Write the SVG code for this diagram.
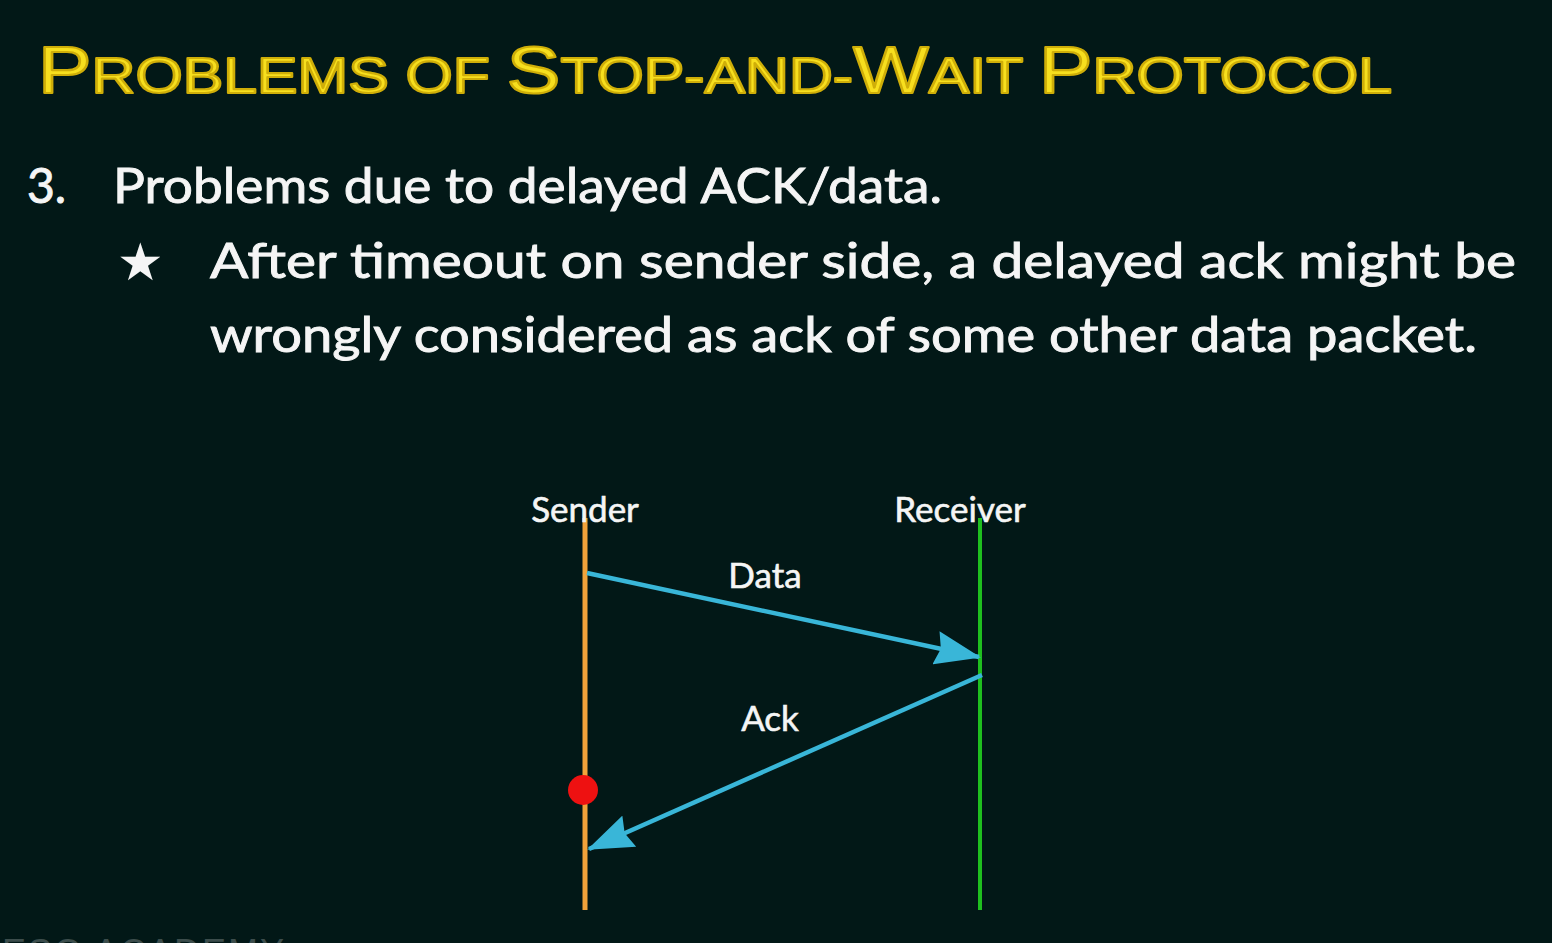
<svg xmlns="http://www.w3.org/2000/svg" width="1552" height="943" viewBox="0 0 1552 943">
  <style>
    .title { font-family: "Liberation Sans", "DejaVu Sans", sans-serif; fill: #f7df1e; stroke: #cfae08; stroke-width: 2.2; stroke-linejoin: round; }
    .body { font-family: "Lato", "Liberation Sans", sans-serif; fill: #f5f5f5; stroke: #f5f5f5; stroke-width: 0.9; font-size: 48px; }
    .label { font-family: "Lato", "Liberation Sans", sans-serif; fill: #f5f5f5; stroke: #f5f5f5; stroke-width: 0.6; font-size: 35px; text-anchor: middle; }
    .mark { font-family: "Liberation Sans", sans-serif; fill: #3c4d4c; font-size: 36px; letter-spacing: 2px; }
    .msg { stroke: #39b6d8; stroke-width: 4.5; fill: none; }
  </style>
  <defs>
    <marker id="head" viewBox="0 0 46 34" refX="44" refY="17" markerWidth="46" markerHeight="34" markerUnits="userSpaceOnUse" orient="auto">
      <path d="M0,0 L46,17 L0,34 L5,17 Z" fill="#39b6d8"/>
    </marker>
  </defs>

  <rect x="0" y="0" width="1552" height="943" fill="#021817"/>

  <!-- heading -->
  <g id="heading">
    <text class="title" x="38" y="93" textLength="1354" lengthAdjust="spacingAndGlyphs"><tspan font-size="66">P</tspan><tspan font-size="50">ROBLEMS OF </tspan><tspan font-size="66">S</tspan><tspan font-size="50">TOP-AND-</tspan><tspan font-size="66">W</tspan><tspan font-size="50">AIT </tspan><tspan font-size="66">P</tspan><tspan font-size="50">ROTOCOL</tspan></text>
  </g>

  <!-- bullet text -->
  <g id="points">
    <text class="body" x="27" y="203">3.</text>
    <text class="body" x="113" y="203" textLength="829" lengthAdjust="spacingAndGlyphs">Problems due to delayed ACK/data.</text>
    <text x="117" y="280" font-family="DejaVu Sans, sans-serif" font-size="52" fill="#f5f5f5">★</text>
    <text class="body" x="210" y="278" textLength="1306" lengthAdjust="spacingAndGlyphs">After timeout on sender side, a delayed ack might be</text>
    <text class="body" x="210" y="352" textLength="1267" lengthAdjust="spacingAndGlyphs">wrongly considered as ack of some other data packet.</text>
  </g>

  <!-- timelines -->
  <g id="sender">
    <line x1="585" y1="518" x2="585" y2="910" stroke="#f2a33a" stroke-width="5"/>
    <text class="label" x="585" y="522">Sender</text>
  </g>
  <g id="receiver">
    <line x1="980" y1="518" x2="980" y2="910" stroke="#1fbf1f" stroke-width="4"/>
    <text class="label" x="960" y="522">Receiver</text>
  </g>

  <!-- timeout point -->
  <g id="timeout">
    <circle cx="583" cy="790" r="15" fill="#ee1111"/>
  </g>

  <!-- messages -->
  <g id="connectors">
    <line class="msg" x1="587" y1="573" x2="979" y2="657" marker-end="url(#head)"/>
    <line class="msg" x1="982" y1="675" x2="589" y2="849" marker-end="url(#head)"/>
  </g>
  <g id="labels">
    <text class="label" x="765" y="588">Data</text>
    <text class="label" x="770" y="731">Ack</text>
  </g>

  <!-- watermark -->
  <text class="mark" x="2" y="965">ESO ACADEMY</text>
</svg>
